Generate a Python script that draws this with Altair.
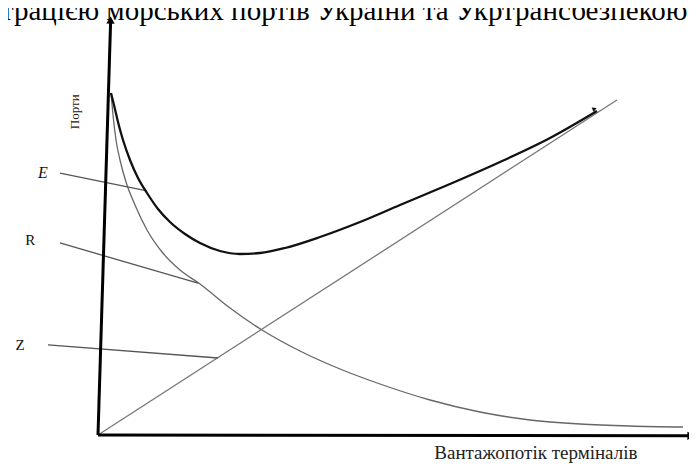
import altair as alt
import pandas as pd

# ---- data, in page pixels of the reference, converted below ----
# origin of the diagram at page pixel (98, 435); 5.99 px per x unit, 4.23 px per y unit
E_px = [111, 114, 118, 123, 130, 138, 147, 158, 170, 185, 200, 220, 240, 260, 285, 320, 360, 400, 450, 500, 550, 597]
E_py = [93, 105, 122, 140, 160, 178, 193, 209, 222, 234, 243, 251, 254, 253, 248, 237, 222, 205, 184, 162, 138, 111]

R_px = [111, 113, 116, 120, 126, 135, 147, 162, 180, 200, 230, 262, 300, 340, 380, 430, 480, 530, 580, 630, 683]
R_py = [93, 115, 140, 160, 182, 205, 230, 252, 270, 284, 308, 330, 351, 369, 384, 400, 412, 420, 424, 426, 427]

PXX = 5.99
PXY = 4.23
OX, OY = 98, 435


def to_x(v):
    return [(p - OX) / PXX for p in v]


def to_y(v):
    return [(OY - p) / PXY for p in v]


E_x, E_y = to_x(E_px), to_y(E_py)
R_x, R_y = to_x(R_px), to_y(R_py)

Z_x = [0.0, 86.64]
Z_y = [0.0, 79.2]

axisY_x = [0.0, 2.1]
axisY_y = [0.0, 97.5]
axisX_x = [0.0, 99.0]
axisX_y = [0.0, -0.2]

labels = ["E", "R", "Z"]
label_x = [-9.18, -11.3, -13.0]
label_y = [61.9, 46.1, 21.3]
leader_x0 = [-6.34, -6.34, -8.35]
leader_y0 = [61.9, 45.4, 21.3]
leader_x1 = [8.18, 16.69, 20.03]
leader_y1 = [57.7, 35.9, 18.2]

y_title = "Порти"
x_title = "Вантажопотік терміналів"
top_text = "трацією морських портів України та Укртрансбезпекою"

# ---- scales ----
W, H = 681, 455
xs = alt.Scale(domain=[-90 / PXX, (W - 90) / PXX], nice=False, zero=False)
ys = alt.Scale(domain=[-(H - 427) / PXY, 427 / PXY], nice=False, zero=False)
SERIF = "Liberation Serif"


def line_df(xv, yv):
    return pd.DataFrame({"x": xv, "y": yv, "i": list(range(len(xv)))})


def enc(**kw):
    return dict(x=alt.X("x:Q", scale=xs, axis=None), y=alt.Y("y:Q", scale=ys, axis=None), **kw)


e_line = alt.Chart(line_df(E_x, E_y)).mark_line(color="#111", strokeWidth=2.3, interpolate="monotone").encode(**enc(order="i:Q"))
r_line = alt.Chart(line_df(R_x, R_y)).mark_line(color="#666", strokeWidth=1.3, interpolate="monotone").encode(**enc(order="i:Q"))
z_line = alt.Chart(line_df(Z_x, Z_y)).mark_line(color="#777", strokeWidth=1.3).encode(**enc(order="i:Q"))
ay_line = alt.Chart(line_df(axisY_x, axisY_y)).mark_line(color="#000", strokeWidth=3).encode(**enc(order="i:Q"))
ax_line = alt.Chart(line_df(axisX_x, axisX_y)).mark_line(color="#000", strokeWidth=3).encode(**enc(order="i:Q"))

arrow_y = alt.Chart(pd.DataFrame({"x": [axisY_x[-1]], "y": [axisY_y[-1] + 0.6]})).mark_point(
    shape="triangle-up", filled=True, color="#000", size=70, angle=2, opacity=1
).encode(**enc())
arrow_x = alt.Chart(pd.DataFrame({"x": [axisX_x[-1]], "y": [axisX_y[-1]]})).mark_point(
    shape="triangle-right", filled=True, color="#000", size=70, opacity=1
).encode(**enc())
arrow_e = alt.Chart(pd.DataFrame({"x": [E_x[-1] - 0.4], "y": [E_y[-1] + 0.5]})).mark_point(
    shape="triangle-right", filled=True, color="#111", size=25, angle=336, opacity=1
).encode(**enc())

lead_df = pd.DataFrame({"x": leader_x0, "y": leader_y0, "x2": leader_x1, "y2": leader_y1})
leaders = alt.Chart(lead_df).mark_rule(color="#555", strokeWidth=1.3).encode(
    x=alt.X("x:Q", scale=xs, axis=None), y=alt.Y("y:Q", scale=ys, axis=None), x2="x2:Q", y2="y2:Q"
)

lab_df = pd.DataFrame({"t": labels, "x": label_x, "y": label_y})
lab_e = alt.Chart(lab_df.iloc[[0]]).mark_text(font=SERIF, fontSize=16, fontStyle="italic", color="#111").encode(**enc(text="t:N"))
lab_rz = alt.Chart(lab_df.iloc[[1, 2]]).mark_text(font=SERIF, fontSize=15, color="#111").encode(**enc(text="t:N"))

ytitle = alt.Chart(pd.DataFrame({"t": [y_title], "x": [-3.84], "y": [76.4]})).mark_text(
    font=SERIF, fontSize=13, angle=270, color="#222"
).encode(**enc(text="t:N"))
xtitle = alt.Chart(pd.DataFrame({"t": [x_title], "x": [73.1], "y": [-5.6]})).mark_text(
    font=SERIF, fontSize=19, baseline="alphabetic", color="#222"
).encode(**enc(text="t:N"))
toptext = alt.Chart(pd.DataFrame({"t": [top_text], "x": [-16.2], "y": [98.0]})).mark_text(
    font=SERIF, fontSize=29, align="left", baseline="alphabetic", color="#000"
).encode(**enc(text="t:N"))

chart = alt.layer(
    r_line, z_line, leaders, e_line, ay_line, ax_line, arrow_y, arrow_x, arrow_e,
    lab_e, lab_rz, ytitle, xtitle, toptext
).properties(
    width=W, height=H, padding=0, autosize=alt.AutoSizeParams(type="none"), background="white"
).configure_view(stroke=None)

chart.save("out.html", embed_options={"renderer": "svg", "actions": False})
